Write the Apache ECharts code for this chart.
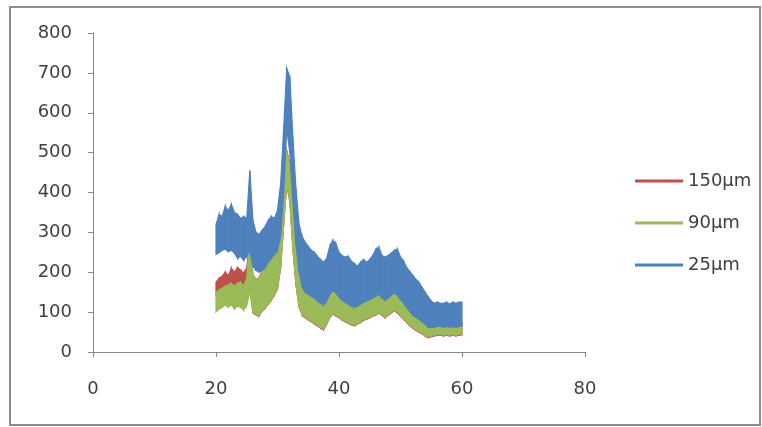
<!DOCTYPE html>
<html>
<head>
<meta charset="utf-8">
<script src="https://cdn.jsdelivr.net/npm/echarts@6/dist/echarts.min.js"></script>
<style>html,body{margin:0;padding:0;background:#fff}#c{width:762px;height:427px}</style>
</head>
<body>
<div id="c"></div>
<script>
// 2-theta positions (degrees)
var xs = [20,20.5,21,21.5,22,22.5,23,23.5,24,24.5,25,25.5,26,26.5,27,27.5,28,28.5,29,29.5,
30,30.5,31,31.5,32,32.5,33,33.5,34,34.5,35,35.5,36,36.5,37,37.5,38,38.5,39,39.5,
40,40.5,41,41.5,42,42.5,43,43.5,44,44.5,45,45.5,46,46.5,47,47.5,48,48.5,49,49.5,
50,50.5,51,51.5,52,52.5,53,53.5,54,54.5,55,55.5,56,56.5,57,57.5,58,58.5,59,59.5,60];

// upper / lower extent of the noisy trace for each sample
var blueHi = [320,345,340,365,355,370,350,345,335,340,335,455,330,300,295,305,315,330,340,335,
355,420,560,712,690,540,410,320,290,275,265,255,250,240,232,225,235,265,280,272,
250,242,238,240,228,222,215,225,232,225,232,242,258,262,242,238,242,248,255,258,
238,228,212,202,192,182,175,162,150,138,128,122,125,122,122,125,120,125,122,125,125];
var blueLo = [245,250,255,258,252,255,248,235,240,230,240,255,215,205,200,205,212,225,235,245,
255,290,400,560,500,380,270,200,165,150,145,140,135,128,122,118,128,145,155,148,
138,130,125,120,115,112,115,120,125,128,132,135,140,145,135,130,135,142,148,142,
132,122,112,102,92,88,82,76,70,62,62,62,64,64,62,64,62,64,62,64,65];

var greenHi = [150,155,160,165,168,172,165,172,175,165,185,290,195,180,185,200,220,232,245,255,
265,320,420,500,470,360,260,200,170,158,150,145,140,132,126,122,132,150,162,152,
142,135,130,124,118,115,118,124,130,132,136,140,145,150,140,135,140,148,155,148,
138,128,118,108,98,92,86,80,74,68,68,68,70,70,68,70,68,70,68,70,70];
var greenLo = [100,108,112,118,112,118,108,115,112,105,118,150,100,95,92,105,112,122,132,145,
160,210,320,420,380,260,170,115,95,88,82,78,72,68,62,58,72,88,98,92,
88,82,78,74,70,68,72,76,82,84,88,92,95,100,94,88,94,100,105,100,
92,84,76,68,62,56,52,48,42,38,40,42,44,44,42,44,42,44,42,44,45];

var redHi = [175,185,190,200,192,210,200,212,205,198,212,280,195,182,186,204,225,236,248,258,
268,322,424,505,474,364,264,204,174,162,154,148,144,136,130,126,136,154,166,156,
146,138,134,128,122,118,122,128,134,136,140,144,148,154,144,138,144,152,158,152,
142,132,122,112,102,96,90,84,78,72,72,72,74,74,72,74,72,74,72,74,74];
var redLo = [145,150,155,160,150,158,150,155,152,145,155,165,98,93,90,103,110,120,130,143,
158,208,318,418,378,258,168,113,93,86,80,76,70,66,60,56,70,86,96,90,
86,80,76,72,68,66,70,74,80,82,86,90,93,98,92,86,92,98,103,98,
90,82,74,66,60,54,50,46,40,36,38,40,42,42,40,42,40,42,40,42,43];

var names = ['150µm','90µm','25µm'];
var colors = ['#C0504D','#9BBB59','#4F81BD'];
var his = [redHi, greenHi, blueHi];
var los = [redLo, greenLo, blueLo];

function makeSeries(s) {
  var segs = [];
  for (var i = 0; i < xs.length - 1; i++) {
    segs.push([xs[i], los[s][i], his[s][i], xs[i + 1], los[s][i + 1], his[s][i + 1]]);
  }
  var col = colors[s];
  return {
    name: names[s], type: 'custom', z: 2 + s,
    itemStyle: {color: col},
    encode: {x: [0, 3], y: [1, 2, 4, 5]},
    data: segs,
    renderItem: function (params, api) {
      var a = api.coord([api.value(0), api.value(2)]);
      var b = api.coord([api.value(3), api.value(5)]);
      var c = api.coord([api.value(3), api.value(4)]);
      var d = api.coord([api.value(0), api.value(1)]);
      return {
        type: 'polygon',
        shape: {points: [a, b, c, d]},
        style: {fill: col, stroke: col, lineWidth: 1.2}
      };
    }
  };
}
var series = [makeSeries(0), makeSeries(1), makeSeries(2)];

var txt = {color: '#404040', fontFamily: 'DejaVu Sans', fontSize: 18};
var chart = echarts.init(document.getElementById('c'));
chart.setOption({
  animation: false,
  backgroundColor: '#fff',
  graphic: [{type: 'rect', shape: {x: 10, y: 7, width: 750, height: 418},
    style: {fill: 'none', stroke: '#8c8c8c', lineWidth: 2}, z: 100}],
  grid: {left: 93, right: 177, top: 33, bottom: 75},
  legend: {
    orient: 'vertical', left: 630, top: 166, itemGap: 22,
    icon: 'rect', itemWidth: 48, itemHeight: 3,
    data: names,
    textStyle: {color: '#404040', fontFamily: 'DejaVu Sans', fontSize: 18, lineHeight: 20, padding: [0,0,0,0]}
  },
  xAxis: {
    type: 'value', min: 0, max: 80, interval: 20,
    axisLine: {show: true, lineStyle: {color: '#868686'}},
    axisTick: {show: true, length: 5, lineStyle: {color: '#868686'}},
    splitLine: {show: false},
    axisLabel: Object.assign({margin: 28}, txt)
  },
  yAxis: {
    type: 'value', min: 0, max: 800, interval: 100,
    axisLine: {show: true, lineStyle: {color: '#868686'}},
    axisTick: {show: true, length: 5, lineStyle: {color: '#868686'}},
    splitLine: {show: false},
    axisLabel: Object.assign({margin: 21}, txt)
  },
  series: series
});
</script>
</body>
</html>
